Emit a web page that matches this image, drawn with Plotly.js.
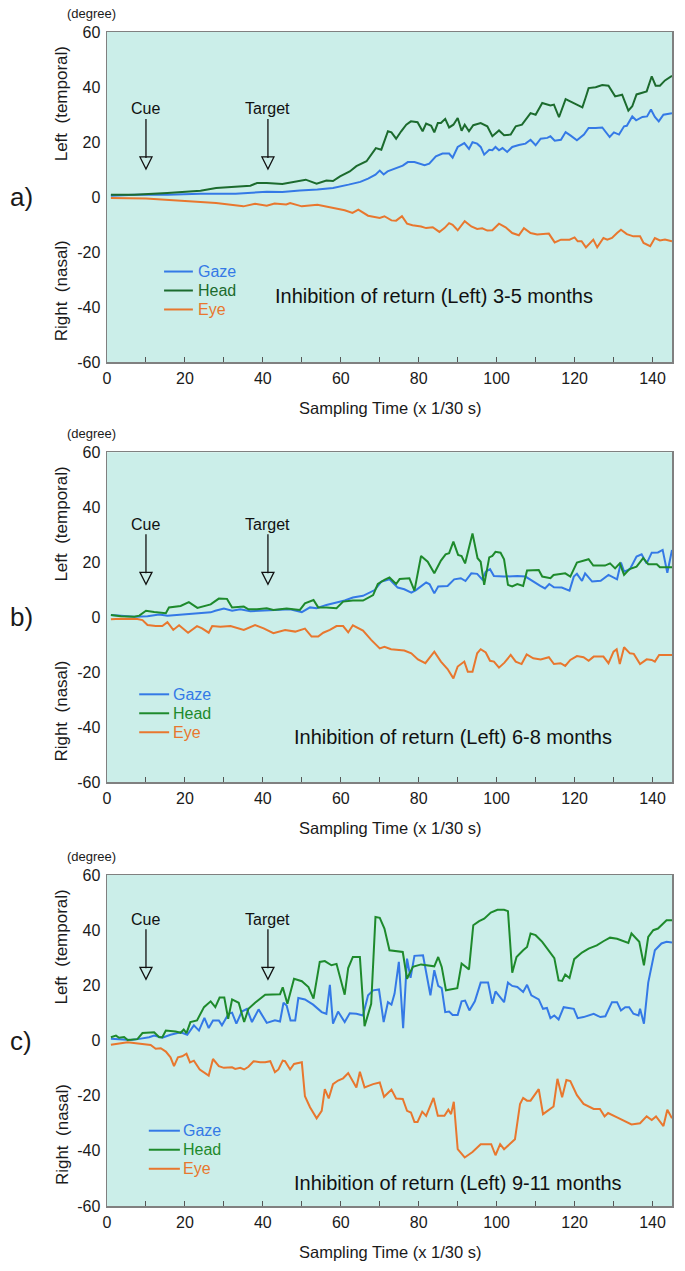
<!DOCTYPE html>
<html>
<head>
<meta charset="utf-8">
<script src="https://cdn.plot.ly/plotly-3.0.1.min.js"></script>
<style>
  html, body { margin: 0; padding: 0; background: #fff; }
  #chart { width: 685px; height: 1271px; }
</style>
</head>
<body>
<div id="chart"></div>
<script>
// ---- panel a) 3-5 months ----
const aGazeT = [1, 7, 15.5, 24, 33, 41, 45, 49.5, 54, 58, 62, 65, 67, 68.9, 70, 71, 72, 73, 74.6, 75.9, 77.2, 78.9, 81.5, 82.7, 84.4, 86.1, 87.8, 88.7, 90, 91.7, 92.9, 93.8, 95, 95.9, 96.8, 98.1, 98.9, 99.7, 100.6, 101.5, 102.7, 104, 105.7, 107.4, 108.7, 110, 111.3, 113, 113.8, 114.9, 116.5, 117.7, 119, 120.6, 122.4, 123.6, 125.4, 127.1, 129, 130.1, 131.4, 132.7, 133.4, 134.8, 135.8, 137.4, 138.6, 139.6, 140.6, 141.6, 142.8, 145];
const aGazeV = [0.5, 0.8, 0.8, 1.2, 1.2, 1.9, 1.8, 2.4, 2.7, 3.3, 4.5, 5.5, 6.7, 8.1, 9.6, 8.2, 9.3, 9.9, 10.9, 11.4, 12.7, 12.7, 11.6, 12.1, 14.8, 15.8, 15.8, 14.3, 18.2, 19.6, 17.5, 19.9, 19.4, 18.2, 15.4, 17.2, 17, 18.2, 17, 17.8, 16.4, 18.2, 18.9, 19.4, 20.8, 18.8, 21.2, 21.5, 22.1, 20.5, 20.8, 23.6, 22.3, 20.6, 22.7, 25.1, 25.1, 25.3, 21.8, 23.5, 22.7, 25.7, 25.9, 29.3, 27.9, 29.1, 29.3, 31.8, 29.1, 27.5, 29.9, 30.5];
const aHeadT = [1, 7, 15.5, 24, 28, 32.5, 36.8, 38.5, 41, 45, 49.5, 51, 53.8, 56.3, 58, 59.8, 62.3, 64, 66.6, 69, 70.4, 71.2, 72.1, 73, 74.2, 75.5, 76.8, 78, 79.7, 81, 81.9, 83.2, 84, 84.9, 85.7, 86.8, 87.8, 88.9, 90, 91, 91.8, 92.9, 94, 95.9, 97.6, 98.9, 100.6, 101.9, 103.6, 104.9, 106.5, 108.7, 110, 111.7, 113.8, 114.7, 116, 117.7, 119.8, 122, 122.8, 123.6, 125.4, 127.1, 128.7, 130.4, 132.2, 133.8, 134.8, 135.9, 138.5, 139.8, 140.8, 141.9, 143.2, 145];
const aHeadV = [0.8, 0.8, 1.5, 2.3, 3.3, 3.6, 4.1, 5.1, 5.1, 4.7, 6, 6.3, 4.8, 6, 5.8, 7.5, 9.3, 11.2, 13, 17.8, 17.2, 20.2, 23.9, 23.5, 21.2, 23.9, 26.3, 27.5, 27.2, 23.9, 26.7, 25.9, 23.5, 26.9, 26.9, 28.4, 25.3, 26.3, 28.7, 24.1, 26.3, 23.9, 26.1, 26.9, 25.7, 22.1, 24.2, 22.5, 22.7, 25.7, 26.3, 30.5, 29.9, 34.2, 33.3, 33.6, 29, 35.6, 34.2, 32.6, 36, 39.6, 39.9, 40.7, 40.5, 36.6, 37.2, 31.4, 33, 37.3, 38.4, 43.9, 40.5, 40.5, 42.4, 44.1];
const aEyeT = [1, 10, 15, 20, 24, 28, 33, 35, 38, 41, 43, 46, 47, 50, 54, 58, 61, 63, 64.5, 67, 70, 71.2, 73, 74.2, 75.7, 77, 78.4, 80.6, 81.9, 83.6, 85.3, 86.6, 87.8, 88.7, 90, 91.8, 93.5, 95, 96.3, 97.6, 98.9, 100.6, 102.3, 104, 105.7, 107, 108.7, 110.4, 113.4, 114.9, 116.5, 118.7, 120, 120.8, 121.8, 122.9, 123.7, 124.8, 125.8, 127.4, 128.4, 129.6, 130.9, 131.9, 133.4, 135.1, 136.8, 137.7, 139.4, 140.6, 141.9, 143.2, 145];
const aEyeV = [-0.4, -0.5, -1, -1.3, -1.8, -2.2, -3, -3.4, -2.5, -3.2, -2.4, -2.7, -2.2, -3.4, -2.8, -4, -4.8, -5.8, -4.6, -6.8, -7.6, -7, -8.5, -8.6, -7, -9.7, -10.3, -10.7, -11.3, -11, -12.7, -11.3, -9.5, -10.1, -12.1, -8.8, -10.7, -11.6, -11.4, -12.2, -12.1, -9.7, -11, -13.1, -13.9, -11.3, -13.1, -13.6, -13.3, -16.5, -15.5, -15.5, -14.7, -16.1, -16.1, -18.3, -17, -15.5, -18.3, -14.9, -15.5, -14.9, -13.1, -11.9, -13.5, -14.3, -14.3, -16.7, -17.9, -14.9, -15.8, -15.5, -16.1];

// ---- panel b) 6-8 months ----
const bGazeT = [1, 7, 10.4, 13.4, 15.5, 19.3, 23.1, 26.6, 27.8, 30, 32.1, 34.2, 36.8, 39.3, 41, 44.4, 47, 50, 52.1, 53.8, 56.3, 58.9, 61, 63.1, 65.7, 68.7, 70.4, 71.2, 72.5, 74.6, 76.3, 78.1, 79.3, 81.9, 82.8, 84, 85, 87.4, 89.1, 90.8, 92, 93.5, 95, 96.3, 97.2, 98.3, 99.3, 101.9, 105.3, 107.4, 109.1, 111.2, 112.4, 113.5, 114.7, 116.7, 118.7, 119.8, 120.6, 121.9, 122.7, 124.5, 126.7, 128.7, 130.9, 131.9, 132.7, 134.2, 135.9, 137.2, 138.5, 139.8, 141.4, 142.6, 143.8, 145];
const bGazeV = [0.8, 0.2, 0.4, 1, 0.6, 1.1, 1.5, 1.8, 2.4, 3.2, 2.4, 2.9, 2.2, 2.4, 2.7, 2.7, 2.9, 1.9, 3.6, 3.3, 4.5, 5.3, 6.1, 7.2, 7.8, 9.9, 13, 13.3, 13.8, 10.8, 10.2, 9, 9.9, 12.7, 12, 8.7, 11.2, 11.4, 13.8, 14.2, 13.2, 16, 15.8, 13.8, 16.6, 17.5, 15, 14.8, 15, 14.8, 13.2, 11.4, 10.5, 12.1, 10.9, 10.8, 9.7, 14.8, 15.8, 13.2, 16, 13, 13.3, 15.4, 13.8, 19.9, 16.6, 17.5, 22.1, 22.9, 19.6, 23.5, 23.6, 24.5, 16.2, 24.5];
const bHeadT = [1, 3.6, 7, 8.3, 10, 12.1, 15.1, 15.9, 18.9, 21, 23.2, 25.3, 26.6, 28.7, 30.8, 32.1, 35.1, 36.3, 38.5, 41, 42.7, 46.1, 49.5, 50.8, 53, 54.2, 56.3, 58.9, 60.6, 63.1, 65.7, 68.3, 69.5, 71.2, 72.5, 74.2, 75.1, 77.6, 78.9, 80.6, 82.3, 84, 85.7, 86.9, 87.8, 88.9, 90.1, 91, 91.9, 93.8, 95.1, 95.9, 96.8, 98.1, 98.9, 99.7, 101, 101.9, 102.9, 104, 105.3, 106.8, 107.8, 110.8, 111.7, 113.8, 114.6, 117.6, 118.9, 120.6, 123.6, 124.8, 127.8, 129.1, 130.4, 131.6, 132.7, 134.1, 135.9, 137.6, 138.9, 141.1, 141.9, 145];
const bHeadV = [0.8, 0.4, 0.2, 0.6, 2.4, 1.9, 1.5, 3.6, 4.1, 5.5, 3.4, 4.1, 4.7, 6.8, 6.7, 3.6, 3.9, 2.9, 2.9, 3.3, 2.7, 3.2, 2.7, 5.1, 6.3, 3.6, 3.6, 3.3, 5.7, 6.1, 6.1, 8.1, 12.1, 13.6, 14.5, 12.1, 13.9, 14.2, 9.7, 22.3, 20.2, 16, 20.6, 22.9, 23.3, 27.5, 22.7, 22.3, 19.6, 30.5, 21.5, 20.2, 11.8, 21.8, 22.3, 23.8, 23.5, 21.1, 11.8, 11.2, 12.1, 11.4, 17, 17.2, 14.8, 14.2, 15.4, 16, 14.8, 19.9, 21.1, 18.8, 18.8, 19.6, 17.8, 19.6, 15.4, 17.5, 18.4, 21.5, 19.3, 19.3, 18.2, 18.2];
const bEyeT = [1, 3.6, 7.8, 9.1, 10.4, 12.5, 14.2, 15.5, 17, 18.5, 20.8, 23.1, 24.4, 26.1, 27, 29.1, 31.7, 33.4, 35.1, 38, 40.2, 42.7, 45.7, 48.3, 50.8, 52.5, 54.2, 55.5, 57.2, 58.9, 60.6, 61.9, 63.1, 65.7, 67.8, 70, 71.2, 72.9, 76.3, 78.1, 79.8, 81.7, 84, 85.7, 87.4, 88.9, 90, 91.7, 92.6, 93.8, 95, 95.9, 97.2, 98.3, 99.3, 100.6, 102, 103.6, 104.9, 106.4, 107.7, 109.4, 111.3, 113.4, 114.7, 116.4, 117.6, 118.9, 120.6, 122.3, 123.6, 124.9, 127.4, 128.7, 130, 130.8, 131.6, 132.7, 134.2, 135.2, 136.8, 138.5, 139.8, 140.6, 141.7, 145];
const bEyeV = [-0.7, -0.5, -0.6, -1, -2.8, -3.2, -3.2, -1.8, -4.6, -2.9, -5.6, -3.2, -4, -5.6, -3.2, -3.4, -3.2, -4, -4.6, -2.8, -4, -5.8, -4.6, -5.2, -4.1, -7, -7, -5.6, -4.6, -3.2, -3.2, -5.5, -2.9, -4.8, -8.2, -11.3, -10.7, -11.6, -12.1, -13.1, -15.3, -16.7, -12.5, -16.1, -18.8, -22.2, -17.9, -16.1, -19.8, -19.8, -13.1, -11.6, -12.8, -15.8, -16.1, -18.3, -16.5, -13.7, -16.1, -17, -13.5, -14.9, -15.3, -14.5, -17, -16.7, -17.7, -15.5, -14.1, -14.5, -15.8, -14.3, -14.3, -16.7, -12.5, -11.6, -17, -10.9, -13.1, -13.3, -17, -15.3, -15.5, -16.1, -13.7, -13.7];

// ---- panel c) 9-11 months ----
const cGazeT = [1, 3.6, 6.1, 8.3, 10.8, 12.1, 14.2, 16.3, 18.9, 20.6, 22.3, 23.6, 25, 26.1, 27.2, 28.7, 29.5, 31.2, 32.1, 33.2, 34.6, 35.9, 37.2, 38.9, 39.7, 41, 43.1, 44.4, 45.3, 46.1, 47.1, 48.3, 49.1, 50.8, 52.9, 55.1, 56.3, 57.2, 58, 59.3, 61, 62.3, 64, 65.7, 67, 68.3, 69.8, 71, 72.1, 73, 73.8, 74.9, 76, 77, 77.9, 78.9, 81.1, 83, 84, 85, 85.9, 86.8, 87.8, 88.7, 90, 91, 91.9, 93, 94.4, 95.9, 97.8, 98.9, 99.7, 101.9, 102.9, 104, 105.3, 106.8, 107.8, 108.9, 110.8, 111.9, 112.9, 113.8, 114.8, 115.9, 117.2, 118.5, 119.8, 120.8, 122.3, 124.9, 126.6, 127.9, 129.6, 130.9, 131.9, 133, 134, 135.1, 136.4, 136.8, 137.8, 138.9, 140.6, 142.3, 143.6, 145];
const cGazeV = [0.6, 0.4, 0.2, 0.6, 1.2, 1.8, 1, 2.1, 3, 2.1, 5.5, 3.6, 8.2, 4.5, 7.3, 7.3, 5.5, 9.7, 10.1, 6.1, 10.5, 11.5, 6.7, 11.3, 9.3, 6.4, 7.3, 6.9, 13.7, 12.7, 7.3, 7.3, 15.4, 14.9, 13, 10.3, 9.7, 20.2, 6.1, 10.5, 6.7, 9.9, 9.7, 9.1, 16.4, 18.2, 18.5, 6.7, 13.9, 13, 17, 28.5, 4.5, 29.7, 22.7, 30.7, 30.9, 16.4, 25.5, 19.8, 19, 10.3, 10.5, 9.3, 9.3, 14.2, 14.5, 10.9, 14.2, 21, 21, 13.3, 17.8, 13.9, 21, 19.8, 19.4, 17.6, 20.2, 16.4, 14.9, 11.5, 11.8, 8.1, 9.1, 7.6, 12.1, 11.8, 11.5, 8.1, 8.5, 9.7, 8.5, 8.8, 13.9, 13.9, 10.9, 12.1, 12.1, 9.7, 9.1, 11.5, 6.1, 21, 32.7, 35.2, 35.8, 35.5];
const cHeadT = [1, 2.3, 3.1, 4.4, 5.3, 7.8, 9.1, 12.1, 13.4, 14.2, 15.1, 17.6, 18.9, 19.7, 20.4, 21.4, 23.1, 24.9, 26.6, 27.8, 28.9, 30.1, 31.1, 32.1, 33.8, 35.2, 36.3, 38, 40.6, 43.6, 44.4, 45.1, 46.3, 48, 50, 51.7, 53, 54.6, 55.9, 57.6, 58.9, 61, 61.9, 63.1, 64.9, 66.1, 67.8, 68.9, 70, 71.2, 72.5, 75.9, 77, 78.5, 80.6, 84, 85, 85.9, 87, 89.9, 91, 92.9, 94, 95.5, 96.8, 98.5, 100.2, 101.9, 102.9, 104, 105.1, 106.8, 107.8, 108.7, 110, 111.7, 113.4, 114.8, 115.9, 116.8, 117.6, 118.7, 119.9, 121.9, 123.6, 125.7, 127.4, 129.1, 130.9, 132.6, 133.8, 134.6, 136.6, 137.8, 138.9, 140.2, 141.4, 143.6, 145];
const cHeadV = [1.2, 1.8, 1, 1.3, 0.2, 0.5, 2.7, 3, 1.2, 1.2, 3.6, 3.3, 2.8, 4, 2.7, 6.7, 7.3, 12.1, 14.2, 12.1, 15.6, 15.6, 7.9, 14.9, 13.7, 6.7, 11.5, 13.7, 16.6, 16.7, 16.8, 19.3, 13.3, 22.4, 21.5, 19.4, 15.2, 28.5, 28.8, 27.3, 27.8, 16.6, 26.3, 30.3, 30.3, 5.2, 13.3, 44.8, 44.5, 40.6, 32.7, 32.1, 22.4, 26.7, 27.6, 26.9, 30.3, 26.7, 18.2, 19, 27.9, 25.8, 41.8, 43.3, 44.2, 46.4, 47.4, 47.4, 46.9, 24.6, 30.3, 32.7, 33.9, 38.8, 38.2, 35.8, 32.7, 29.9, 21.8, 21.6, 23.9, 22.7, 29.5, 31.9, 33.3, 34.5, 36, 37.3, 36.9, 36.1, 35.4, 38.8, 35.8, 27.3, 37.6, 40, 40.6, 43.6, 43.6];
const cEyeT = [1, 5.3, 7.4, 11.2, 12.5, 13.8, 15.1, 16.3, 17.2, 18.2, 19.3, 20.4, 21.3, 22.3, 23.8, 25, 26.1, 27.2, 28.7, 30, 32.1, 32.9, 34.2, 35.2, 36.3, 37.6, 39.3, 40.6, 41.9, 43.1, 44, 45.1, 45.7, 47, 48, 50, 50.8, 52.1, 53.8, 55.1, 55.9, 56.9, 58, 59.3, 60.6, 61.9, 64, 64.9, 66.1, 68.3, 70, 71.1, 73, 74.2, 75.9, 77, 78, 78.9, 79.7, 80.9, 81.9, 83.8, 84.9, 86.6, 87.6, 88.3, 89, 90, 91.8, 93.8, 95.9, 98.6, 99.7, 100.9, 101.9, 104.7, 106, 106.8, 107.8, 108.7, 110.8, 111.9, 114.6, 115.6, 116.8, 117.9, 118.9, 120.6, 122.3, 124.9, 126.5, 127.7, 128.6, 130.9, 134.6, 136.8, 138.5, 139.8, 140.9, 142.8, 143.8, 145];
const cEyeV = [-1.5, -0.6, -1, -1.6, -3, -2.8, -4, -6.1, -9.3, -6.1, -5.7, -4.8, -7.9, -7.3, -10.5, -11.8, -12.7, -6.7, -9.3, -9.9, -9.7, -10.3, -9.9, -10.5, -9.5, -7.5, -7.9, -7.9, -7.5, -11.5, -10.5, -7.3, -7.5, -10.5, -8.5, -7.9, -20.2, -24.2, -28.2, -25.5, -17.6, -21, -15.8, -14.5, -13.7, -11.8, -17, -11.3, -17, -15.8, -15.2, -20.4, -17.8, -21, -21.2, -25.5, -26.1, -29.5, -29.5, -25.8, -27.3, -20.8, -27.3, -27.3, -25.1, -26.7, -22.2, -39.4, -42.4, -40.4, -37.6, -37.6, -41.6, -37.6, -39.4, -35.8, -23, -20.8, -21.8, -21.8, -17.6, -26.7, -23.9, -13.9, -20.6, -14.3, -14.7, -19.8, -23, -24.8, -24.8, -27.5, -26.3, -27.9, -30.4, -30, -27.5, -28.8, -27.5, -31, -25.1, -28.2];

// labels and markers
const panelLetters = ['a)', 'b)', 'c)'];
const panelTitles = ['Inhibition of return (Left) 3-5 months', 'Inhibition of return (Left) 6-8 months', 'Inhibition of return (Left) 9-11 months'];
const seriesNames = ['Gaze', 'Head', 'Eye'];
const eventNames = ['Cue', 'Target'];
const eventTimes = [10, 41.3];
const eventTips = [10.2, 12, 22.2];          // arrow tip height per panel (degree)
const titlePos = [[84, -36], [88.7, -43.4], [90, -51.5]];
const xTickVals = [0, 10, 20, 30, 40, 50, 60, 70, 80, 90, 100, 110, 120, 130, 140];
const xTickText = ['0', '', '20', '', '40', '', '60', '', '80', '', '100', '', '120', '', '140'];
const yTickVals = [-60, -40, -20, 0, 20, 40, 60];
const yTickText = ['-60', '-40', '-20', '0', '20', '40', '60'];

const panels = [
  { T: [aGazeT, aHeadT, aEyeT], V: [aGazeV, aHeadV, aEyeV] },
  { T: [bGazeT, bHeadT, bEyeT], V: [bGazeV, bHeadV, bEyeV] },
  { T: [cGazeT, cHeadT, cEyeT], V: [cGazeV, cHeadV, cEyeV] },
];

const FONT = 'Liberation Sans, Arial, Helvetica, sans-serif';
const BLUE = '#3479e6';
const GREENS = ['#1c6b2e', '#1e8a2c', '#1e8a2c'];
const ORANGE = '#e8772e';
const BG = '#cbeee9';

const domains = [[0.7189, 1], [0.3609, 0.642], [0, 0.2819]];
// hand-drawn legend: [line start, line end, text start] in x-domain fraction, first row y (degree)
const legendBox = [[0.101, 0.152, 0.157, -27.1], [0.057, 0.110, 0.113, -28], [0.074, 0.129, 0.131, -32.7]];
const legendStep = 6.9;

const traces = [];
const layout = {
  width: 685, height: 1271,
  margin: { l: 107, r: 13, t: 32, b: 65 },
  paper_bgcolor: '#fff',
  font: { family: FONT, size: 16, color: '#1a1a1a' },
  showlegend: false,
  annotations: [],
  shapes: [],
};

panels.forEach((p, i) => {
  const n = i === 0 ? '' : String(i + 1);
  const xa = 'x' + n, ya = 'y' + n;
  const colors = [BLUE, GREENS[i], ORANGE];

  for (let s = 0; s < 3; s++) {
    traces.push({
      x: p.T[s], y: p.V[s], xaxis: xa, yaxis: ya,
      type: 'scatter', mode: 'lines',
      line: { color: colors[s], width: 2 },
      name: seriesNames[s], hoverinfo: 'skip',
    });

    // legend entry
    const lb = legendBox[i];
    const ly = lb[3] - s * legendStep;
    layout.shapes.push({
      type: 'line', xref: xa + ' domain', yref: ya,
      x0: lb[0], x1: lb[1], y0: ly, y1: ly,
      line: { color: colors[s], width: 2 },
    });
    layout.annotations.push({
      xref: xa + ' domain', yref: ya, x: lb[2], y: ly,
      xanchor: 'left', yanchor: 'middle', showarrow: false,
      text: seriesNames[s], font: { size: 16, family: FONT, color: colors[s] },
    });
  }

  layout['xaxis' + n] = {
    domain: [0, 1], anchor: ya, range: [0, 145],
    tickvals: xTickVals, ticktext: xTickText,
    ticks: 'inside', ticklen: 5, tickwidth: 1, tickcolor: '#555',
    showline: true, linecolor: '#808080', linewidth: 1.5, mirror: true,
    showgrid: false, zeroline: false,
    tickfont: { size: 16, family: FONT, color: '#1a1a1a' },
    ticklabelstandoff: 1,
  };
  layout['yaxis' + n] = {
    domain: domains[i], anchor: xa, range: [-60, 60],
    tickvals: yTickVals, ticktext: yTickText, ticks: '',
    showline: true, linecolor: '#808080', linewidth: 1.5, mirror: true,
    showgrid: false, zeroline: false,
    tickfont: { size: 16, family: FONT, color: '#1a1a1a' },
    ticklabelstandoff: 2,
  };

  layout.shapes.push({
    type: 'rect', xref: xa + ' domain', yref: ya + ' domain',
    x0: 0, x1: 1, y0: 0, y1: 1, fillcolor: BG, line: { width: 0 }, layer: 'below',
  });

  eventTimes.forEach((t, k) => {
    layout.shapes.push({
      type: 'line', xref: xa, yref: ya,
      xsizemode: 'pixel', xanchor: t, x0: 0, x1: 0,
      ysizemode: 'pixel', yanchor: eventTips[i], y0: 11, y1: 50,
      line: { color: '#111', width: 1.3 },
    });
    layout.shapes.push({
      type: 'path', xref: xa, yref: ya,
      xsizemode: 'pixel', xanchor: t, ysizemode: 'pixel', yanchor: eventTips[i],
      path: 'M0,0L-6,12L6,12Z',
      fillcolor: 'rgba(0,0,0,0)', line: { color: '#111', width: 1.3 },
    });
    layout.annotations.push({
      xref: xa, yref: ya, x: t, y: eventTips[i], yshift: 60,
      xanchor: 'center', yanchor: 'middle',
      text: eventNames[k], showarrow: false,
      font: { size: 16, family: FONT, color: '#111' },
    });
  });

  layout.annotations.push(
    { xref: xa, yref: ya, x: titlePos[i][0], y: titlePos[i][1], text: panelTitles[i],
      xanchor: 'center', yanchor: 'middle',
      showarrow: false, font: { size: 20, family: FONT, color: '#111' } },
    { xref: xa + ' domain', yref: ya + ' domain', x: 0.5, y: 0, yshift: -46,
      xanchor: 'center', yanchor: 'middle',
      text: 'Sampling Time (x 1/30 s)', showarrow: false,
      font: { size: 16.5, family: FONT, color: '#1a1a1a' } },
    { xref: 'paper', yref: ya + ' domain', x: -0.028, y: 1, yshift: 19,
      xanchor: 'center', yanchor: 'middle',
      text: '(degree)', showarrow: false,
      font: { size: 13, family: FONT, color: '#1a1a1a' } },
    { xref: 'paper', yref: ya, x: -0.08, y: 34, textangle: -90,
      xanchor: 'center', yanchor: 'middle',
      text: 'Left  (temporal)', showarrow: false,
      font: { size: 17, family: FONT, color: '#1a1a1a' } },
    { xref: 'paper', yref: ya, x: -0.08, y: -34, textangle: -90,
      xanchor: 'center', yanchor: 'middle',
      text: 'Right  (nasal)', showarrow: false,
      font: { size: 17, family: FONT, color: '#1a1a1a' } },
    { xref: 'paper', yref: ya, x: -0.152, y: 0,
      xanchor: 'center', yanchor: 'middle',
      text: panelLetters[i], showarrow: false,
      font: { size: 26, family: FONT, color: '#1a1a1a' } }
  );
});

Plotly.newPlot('chart', traces, layout, { staticPlot: true, displayModeBar: false });
</script>
</body>
</html>
